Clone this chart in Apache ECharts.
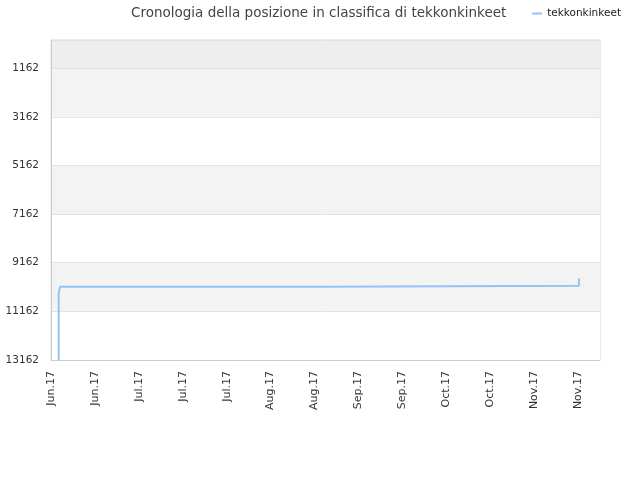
<!DOCTYPE html>
<html><head><meta charset="utf-8">
<script src="https://cdn.jsdelivr.net/npm/echarts@6/dist/echarts.min.js"></script>
<style>html,body{margin:0;padding:0;background:#fff}#c{width:640px;height:480px}</style>
</head><body><div id="c"></div>
<script>
const startDate = "2017-06-03";
const times = ["2017-06-05 10:48","2017-06-05 10:48","2017-06-05 21:00","2017-08-27 17:00","2017-08-27 17:00","2017-11-18 07:00","2017-11-18 07:00"];
const ranks = [13162, 10421, 10149, 10149, 10108, 10108, 9805];
const yTopRank = 1, yBottomRank = 13162;
const monthNames = ["Jan","Feb","Mar","Apr","May","Jun","Jul","Aug","Sep","Oct","Nov","Dec"];

const t0 = Date.parse(startDate + "T00:00:00");
const dayOf = s => (Date.parse(s.replace(" ", "T") + ":00") - t0) / 86400000;
const data = times.map((t, i) => [dayOf(t), yBottomRank - ranks[i]]);

const chart = echarts.init(document.getElementById('c'));
chart.setOption({
  animation: false,
  title: {text: 'Cronologia della posizione in classifica di tekkonkinkeet', left: 126, top: 1,
    textStyle: {fontSize: 13.5, fontWeight: 'normal', color: '#444', fontFamily: 'DejaVu Sans'}},
  legend: {right: 14, top: 3, icon: 'rect', itemWidth: 10, itemHeight: 2, itemGap: 6,
    textStyle: {fontSize: 10.5, color: '#222', fontFamily: 'DejaVu Sans'}},
  grid: {left: 51, right: 40, top: 40, bottom: 120},
  xAxis: {type: 'value', min: 0, max: 175, interval: 14,
    axisLine: {show: true, lineStyle: {color: '#ccc'}}, axisTick: {show: false},
    splitLine: {show: false},
    axisLabel: {rotate: 90, fontSize: 11, color: '#333', fontFamily: 'DejaVu Sans', showMaxLabel: false, margin: 11,
      formatter: v => { const d = new Date(t0 + v * 86400000); return monthNames[d.getMonth()] + '.' + String(d.getFullYear()).slice(2); }}},
  yAxis: {type: 'value', min: 0, max: yBottomRank - yTopRank, interval: 2000,
    axisLine: {show: true, lineStyle: {color: '#ccc'}}, axisTick: {show: false},
    splitLine: {show: true, lineStyle: {color: '#e2e2e2'}},
    splitArea: {show: true, areaStyle: {color: ['#ffffff','#f3f3f3','#ffffff','#f3f3f3','#ffffff','#f3f3f3','#eeeeee']}},
    axisLabel: {fontSize: 10.5, color: '#333', fontFamily: 'DejaVu Sans', showMaxLabel: false, margin: 12,
      formatter: v => String(yBottomRank - v)}},
  series: [{name: 'tekkonkinkeet', type: 'line', data: data, showSymbol: false, symbol: 'none',
    lineStyle: {color: '#92c3f2', width: 2}, itemStyle: {color: '#92c3f2'}}]
});
chart.setOption({graphic: [{type: 'rect', shape: {x: 51, y: 40, width: 549, height: 320}, style: {fill: 'none', stroke: '#dcdcdc', lineWidth: 1}, silent: true, z: -1}]});
</script></body></html>
